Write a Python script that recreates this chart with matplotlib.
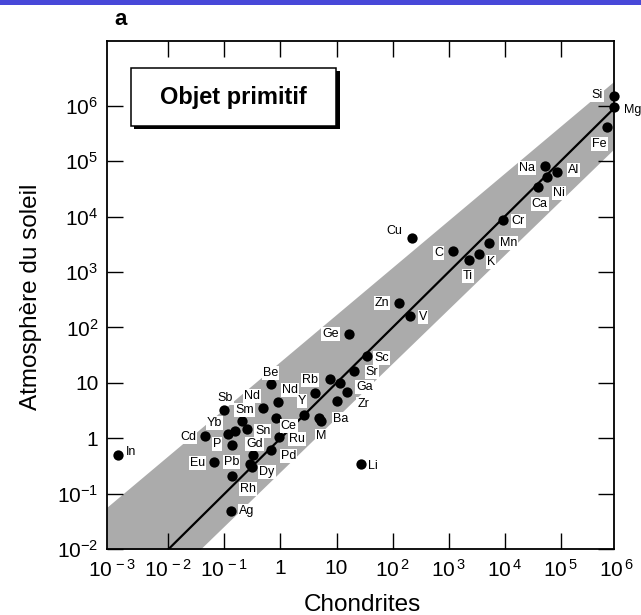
import matplotlib
matplotlib.use("Agg")
import matplotlib.pyplot as plt
from matplotlib.patches import Rectangle
from matplotlib.ticker import NullLocator

plt.rcParams['font.family'] = ['Liberation Sans', 'DejaVu Sans']
plt.rcParams['mathtext.fontset'] = 'custom'
plt.rcParams['mathtext.rm'] = 'Liberation Sans'
plt.rcParams['mathtext.it'] = 'Liberation Sans:italic'
plt.rcParams['mathtext.bf'] = 'Liberation Sans:bold'

# abondances : chondrites (x) / atmosphere du soleil (y)
elements = ['In', 'Cd', 'Eu', 'Sb', 'Yb', '', 'P', 'Sm', 'Sn', 'Nd',
            'Be', 'Ce', 'Nd', 'Ru', 'Gd', 'Pb', 'Dy', 'Pd', 'Rh', 'Ag',
            'Y', 'Rb', '', '', 'Ba', 'M', 'Zr', 'Ga', 'Sr', 'Sc',
            'Ge', 'Li', 'Cu', 'C', 'Ti', 'Zn', 'V', 'Si', 'Mg', 'Fe',
            'Na', 'Ni', 'Al', 'Ca', 'Cr', 'Mn', 'K']
chondrites = [1.28e-3, 0.045, 0.065, 0.098, 0.114, 0.155, 0.135, 0.21, 0.25, 0.48,
              0.67, 0.82, 0.89, 0.94, 0.33, 0.29, 0.31, 0.67, 0.138, 0.129,
              2.62, 4.13, 7.6, 11.5, 4.93, 5.2, 10.3, 15.2, 20.5, 34.4,
              16.9, 27.3, 219, 1178, 2275, 130, 204, 8.9e5, 8.9e5, 6.6e5,
              5.2e4, 5.6e4, 8.7e4, 3.87e4, 9440, 5310, 3520]
soleil = [0.50, 1.09, 0.38, 3.3, 1.2, 1.38, 0.76, 2.04, 1.48, 3.54,
          9.6, 2.34, 4.48, 1.08, 0.51, 0.35, 0.30, 0.62, 0.21, 0.050,
          2.69, 6.6, 11.8, 9.9, 2.31, 2.1, 4.8, 6.8, 16.2, 31.1,
          76.4, 0.35, 4110, 2366, 1675, 277, 161, 1.46e6, 9.3e5, 4.07e5,
          8.3e4, 5.25e4, 6.3e4, 3.37e4, 8690, 3300, 2120]

# decalage des etiquettes (pixels, droite / haut)
label_off = [(13, 3), (-17, -1), (-16, -1), (1, 12), (-13, 11), (0, 0), (-15, 1), (2, 11), (16, -2), (-11, 12),
             (0, 11), (13, -8), (12, 12), (18, -2), (1, 11), (-19, 2), (15, -5), (18, -6), (16, -13), (16, 0),
             (-2, 14), (-5, 13), (0, 0), (0, 0), (21, -1), (1, -15), (26, -3), (18, 5), (18, -1), (15, -2),
             (-19, 0), (12, -2), (-17, 7), (-14, -2), (-1, -16), (-17, 0), (13, -1), (-17, 1), (19, -3), (-7, -17),
             (-18, -2), (12, -16), (16, 2), (2, -17), (15, -1), (19, 0), (12, -8)]

# bande grise
band_x = [7.94e-4, 8.91e5]
band_lo = [2.34e-4, 1.66e5]
band_hi = [0.057, 2.75e6]

# droite y = x
fit_x = [1e-3, 1e6]
fit_y = [1e-3, 1e6]

xticks = [1e-3, 1e-2, 1e-1, 1, 10, 1e2, 1e3, 1e4, 1e5]
xlabels = [r'$\mathregular{10^{\,-3}}$', r'$\mathregular{10^{\,-2}}$', r'$\mathregular{10^{\,-1}}$', '1', '10',
           r'$\mathregular{10^{\,2}}$', r'$\mathregular{10^{\,3}}$', r'$\mathregular{10^{\,4}}$',
           r'$\mathregular{10^{\,5}}$']
yticks = [1e-2, 1e-1, 1, 10, 1e2, 1e3, 1e4, 1e5, 1e6]
ylabels = [r'$\mathregular{10^{-2}}$', r'$\mathregular{10^{-1}}$', '1', '10',
           r'$\mathregular{10^{2}}$', r'$\mathregular{10^{3}}$', r'$\mathregular{10^{4}}$',
           r'$\mathregular{10^{5}}$', r'$\mathregular{10^{6}}$']

W, H = 641, 615
fig = plt.figure(figsize=(W / 100, H / 100), dpi=100)
ax = fig.add_axes([106.7 / W, 1 - 549.3 / H, 507.3 / W, 508.6 / H])
ax.set_xscale('log')
ax.set_yscale('log')
ax.set_xlim(10 ** -3.1, 10 ** 5.95)
ax.set_ylim(1e-2, 10 ** 7.17)

ax.fill_between(band_x, band_lo, band_hi, color='#ababab', lw=0, zorder=1)
ax.plot(fit_x, fit_y, color='black', lw=1.6, zorder=2)
ax.scatter(chondrites, soleil, s=55, color='black', lw=0, zorder=3, clip_on=False)

for name, x, y, off in zip(elements, chondrites, soleil, label_off):
    if name == '':
        continue
    ax.annotate(name, (x, y), xytext=(off[0] * 0.72, off[1] * 0.72), textcoords='offset points',
                ha='center', va='center', fontsize=9, zorder=4, annotation_clip=False,
                bbox=dict(boxstyle='square,pad=0.08', fc='white', ec='none'))

ax.set_xticks(xticks)
ax.set_xticklabels(xlabels)
ax.set_yticks(yticks)
ax.set_yticklabels(ylabels)
ax.xaxis.set_minor_locator(NullLocator())
ax.yaxis.set_minor_locator(NullLocator())
ax.tick_params(which='major', direction='in', length=11.5, width=1, top=True, right=True, labelsize=15)
ax.tick_params(axis='x', pad=7)
ax.tick_params(axis='y', pad=6)
first = ax.xaxis.get_major_ticks()[0]
first.tick1line.set_visible(False)
first.tick2line.set_visible(False)
for s in ax.spines.values():
    s.set_linewidth(1.3)

# 10^6 hors limites
ax.text(1e6, -0.0195, r'$\mathregular{10^{\,6}}$', transform=ax.get_xaxis_transform(),
        ha='center', va='top', fontsize=15, clip_on=False)

fig.text(362 / W, 1 - 611 / H, 'Chondrites', ha='center', va='baseline', fontsize=17.5)
fig.text(31.5 / W, 1 - 297 / H, 'Atmosphère du soleil', rotation=90, ha='center', va='center', fontsize=17.5)

# encadre "Objet primitif"
bx0, bx1 = (130.7 - 106.7) / 507.3, (336 - 106.7) / 507.3
by0, by1 = (549.3 - 126) / 508.6, (549.3 - 68.3) / 508.6
ax.add_patch(Rectangle((bx0 + 3.5 / 507.3, by0 - 3 / 508.6), bx1 - bx0, by1 - by0, transform=ax.transAxes,
                       fc='black', ec='black', lw=0, zorder=5, clip_on=False))
ax.add_patch(Rectangle((bx0, by0), bx1 - bx0, by1 - by0, transform=ax.transAxes,
                       fc='white', ec='black', lw=1.1, zorder=6, clip_on=False))
ax.text((bx0 + bx1) / 2, (by0 + by1) / 2, 'Objet primitif', transform=ax.transAxes,
        ha='center', va='center', fontsize=17, fontweight='bold', zorder=7)

fig.text(120.8 / W, 1 - 19.2 / H, 'a', ha='center', va='center', fontsize=16, fontweight='bold')
fig.patches.append(Rectangle((0, 1 - 4.5 / H), 1, 4.5 / H, transform=fig.transFigure,
                             fc='#4848d8', ec='none'))

fig.savefig('out.png', dpi=100)
